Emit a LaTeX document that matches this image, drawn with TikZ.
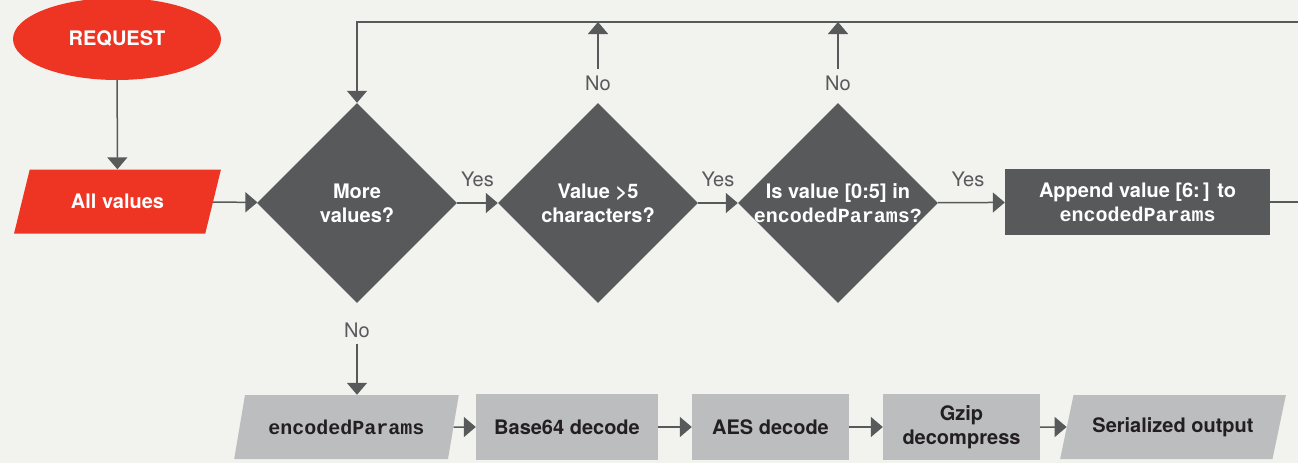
\documentclass[tikz,border=0pt]{standalone}
\usepackage{fontspec}
\setmainfont{TeX Gyre Heros}
\setmonofont{Liberation Mono}
\usetikzlibrary{shapes.geometric,arrows.meta}
\definecolor{reqred}{HTML}{EE3524}
\definecolor{darkbox}{HTML}{58595B}
\definecolor{lightbox}{HTML}{BCBDBF}
\definecolor{paper}{HTML}{F2F2EE}
\definecolor{inktext}{HTML}{231F20}
\begin{document}
\begin{tikzpicture}[x=1pt,y=-1pt,
    flow/.style={draw=darkbox,line width=1.5pt,-{Triangle[width=20pt,length=12pt]}},
    txt/.style={font=\fontsize{20}{24}\selectfont\bfseries,align=center},
    decision/.style={diamond,fill=darkbox,minimum width=200,minimum height=200,inner sep=0pt},
    dectext/.style={txt,text=white},
    iobox/.style={trapezium,trapezium left angle=60.6,trapezium right angle=119.4,trapezium stretches=true,minimum height=64,inner sep=0pt,txt},
    stepbox/.style={rectangle,fill=lightbox,minimum height=66,inner sep=0pt,txt,text=inktext},
    answer/.style={font=\fontsize{20}{24}\selectfont,text=darkbox,inner sep=6pt},
]
    \useasboundingbox (0,0) rectangle (1298,463);
    \fill[paper] (0,0) rectangle (1298,463);
    % top row
    \node[ellipse,fill=reqred,minimum width=208,minimum height=82,inner sep=0pt,txt,text=white] (request) at (117,39) {REQUEST};
    \node[iobox,fill=reqred,text=white,minimum width=207] (allvals) at (117.5,201.5) {All values};
    \node[decision] (more) at (357,203) {};
    \node[dectext] (more-t) at (more) {More\\values?};
    \node[decision] (longer) at (598,203) {};
    \node[dectext] (longer-t) at (longer) {Value >5\\characters?};
    \node[decision] (known) at (838,203) {};
    \node[dectext] (known-t) at (known) {Is value [0:5] in\\\texttt{encodedParams?}};
    \node[rectangle,fill=darkbox,minimum width=265,minimum height=66,inner sep=0pt,txt,text=white] (append) at (1137.5,202) {Append value [6:\,] to\\\texttt{encodedParams}};
    % bottom row
    \node[iobox,fill=lightbox,text=inktext,minimum width=225] (params) at (346.5,427) {\texttt{encodedParams}};
    \node[stepbox,minimum width=182] (b64) at (567,427) {Base64 decode};
    \node[stepbox,minimum width=157] (aes) at (770.5,427) {AES decode};
    \node[stepbox,minimum width=157] (gzip) at (961.5,427) {Gzip\\decompress};
    \node[iobox,fill=lightbox,text=inktext,minimum width=226] (output) at (1173,427) {Serialized output};
    % answers
    \node[answer] (no-more) at (357,330) {No};
    \node[answer] (no-longer) at (598,83) {No};
    \node[answer] (no-known) at (838,83) {No};
    \coordinate (loop) at (1306,22);
    % connectors
    \draw[flow] (request) -- (allvals);
    \draw[flow] (allvals) -- (more);
    \draw[flow] (more) -- node[answer,above=9pt] (yes-more) {Yes} (longer);
    \draw[flow] (longer) -- node[answer,above=9pt] (yes-longer) {Yes} (known);
    \draw[flow] (known) -- node[answer,above=9pt,pos=0.45] (yes-known) {Yes} (append);
    \draw[flow] (append.east) -| (loop) -| (more.north);
    \draw[flow] (no-longer) -- (no-longer |- loop);
    \draw[flow] (no-known) -- (no-known |- loop);
    \draw[flow] (no-more) -- (no-more |- params.north);
    \draw[flow] (params) -- (b64);
    \draw[flow] (b64) -- (aes);
    \draw[flow] (aes) -- (gzip);
    \draw[flow] (gzip) -- (output);
\end{tikzpicture}
\end{document}
